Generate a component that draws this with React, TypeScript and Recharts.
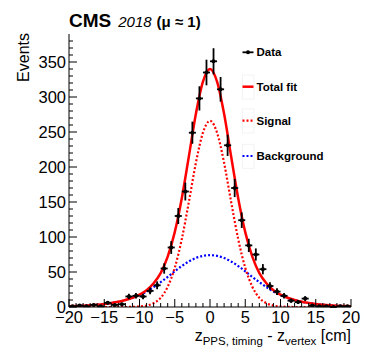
import React from 'react';
import { ComposedChart, Line, Scatter, ErrorBar, XAxis, YAxis } from 'recharts';

// measured events per 1 cm bin
const binCenters = [
  -19.5, -18.5, -17.5, -16.5, -15.5, -14.5, -13.5, -12.5, -11.5, -10.5,
  -9.5, -8.5, -7.5, -6.5, -5.5, -4.5, -3.5, -2.5, -1.5, -0.5,
  0.5, 1.5, 2.5, 3.5, 4.5, 5.5, 6.5, 7.5, 8.5, 9.5,
  10.5, 11.5, 12.5, 13.5, 14.5, 15.5, 16.5, 17.5, 18.5, 19.5,
];
const counts = [
  1, 2, 1, 3, 1, 6, 3, 4, 15, 16,
  15, 23, 31, 55, 85, 130, 165, 249, 298, 335,
  351, 311, 231, 170, 124, 88, 75, 54, 30, 22,
  16, 9, 7, 12, 2, 1, 1, 0, 1, 1,
];
const countErrors = [
  1, 1.4, 1, 1.7, 1, 2.4, 1.7, 2, 3.9, 4,
  3.9, 4.8, 5.6, 7.4, 9.2, 11.4, 12.8, 15.8, 17.3, 18.3,
  18.7, 17.6, 15.2, 13, 11.1, 9.4, 8.7, 7.3, 5.5, 4.7,
  4, 3, 2.6, 3.5, 1.4, 1, 1, 0, 1, 1,
];

// fit curves read at every cm
const fitX = [
  -20, -19, -18, -17, -16, -15, -14, -13, -12, -11, -10, -9, -8, -7, -6, -5, -4, -3, -2, -1,
  0, 1, 2, 3, 4, 5, 6, 7, 8, 9, 10, 11, 12, 13, 14, 15, 16, 17, 18, 19, 20,
];
const totalFit = [
  1.0, 1.3, 1.8, 2.4, 3.2, 4.3, 5.7, 7.5, 10, 13.2, 17.7, 24, 34, 48.5, 72, 107, 155.5, 215, 276, 322,
  340, 322, 276, 215, 155.5, 107, 72, 48.5, 34, 24, 17.7, 13.2, 10, 7.5, 5.7, 4.3, 3.2, 2.4, 1.8, 1.3, 1.0,
];
const signalFit = [
  0, 0, 0, 0, 0, 0, 0, 0, 0, 0.2, 0.7, 2, 5.5, 13, 29, 56, 97, 150, 206, 249,
  266, 249, 206, 150, 97, 56, 29, 13, 5.5, 2, 0.7, 0.2, 0, 0, 0, 0, 0, 0, 0, 0, 0,
];
const backgroundFit = [
  1.0, 1.3, 1.8, 2.4, 3.2, 4.3, 5.7, 7.5, 10, 13, 17, 22, 28.5, 35.5, 43, 51, 58.5, 65, 70, 73,
  74, 73, 70, 65, 58.5, 51, 43, 35.5, 28.5, 22, 17, 13, 10, 7.5, 5.7, 4.3, 3.2, 2.4, 1.8, 1.3, 1.0,
];

const xTicks = fitX; // minor every 1 cm, labels every 5
const yTicks = [
  0, 10, 20, 30, 40, 50, 60, 70, 80, 90, 100, 110, 120, 130, 140, 150, 160, 170, 180, 190,
  200, 210, 220, 230, 240, 250, 260, 270, 280, 290, 300, 310, 320, 330, 340, 350, 360, 370, 380,
];

const font = '"Liberation Sans", Arial, Helvetica, sans-serif';

const fitData = fitX.map((x, i) => ({
  x,
  total: totalFit[i],
  signal: signalFit[i],
  bkg: backgroundFit[i],
}));
const points = binCenters.map((x, i) => ({ x, y: counts[i], ex: 0.5, ey: countErrors[i] }));

const fmt = (v: number) => (v < 0 ? '\u2212' + Math.abs(v) : String(v));

const BottomTick = (p: any) => {
  const v = p.payload.value;
  const major = v % 5 === 0;
  return (
    <g>
      <line x1={p.x} x2={p.x} y1={p.y} y2={p.y - (major ? 8 : 4)} stroke="#000" />
      {major && (
        <text x={p.x} y={p.y + 16} textAnchor="middle" fontSize={16.5} fontFamily={font} fill="#000">
          {fmt(v)}
        </text>
      )}
    </g>
  );
};

const TopTick = (p: any) => {
  const major = p.payload.value % 5 === 0;
  return <line x1={p.x} x2={p.x} y1={p.y} y2={p.y + (major ? 8 : 4)} stroke="#000" />;
};

const LeftTick = (p: any) => {
  const v = p.payload.value;
  const major = v % 50 === 0;
  return (
    <g>
      <line x1={p.x} x2={p.x + (major ? 8 : 4)} y1={p.y} y2={p.y} stroke="#000" />
      {major && (
        <text x={p.x - 3} y={p.y + 5.5} textAnchor="end" fontSize={16.5} fontFamily={font} fill="#000">
          {v}
        </text>
      )}
    </g>
  );
};

const RightTick = (p: any) => {
  const major = p.payload.value % 50 === 0;
  return <line x1={p.x} x2={p.x - (major ? 8 : 4)} y1={p.y} y2={p.y} stroke="#000" />;
};

const Dot = (p: any) => <circle cx={p.cx} cy={p.cy} r={2} fill="#000" />;

const Overlay = () => (
  <svg width={382} height={349} style={{ position: 'absolute', left: 0, top: 0, pointerEvents: 'none' }} fontFamily={font}>
    <text x={69} y={27} fill="#000">
      <tspan fontWeight="bold" fontSize={19}>CMS</tspan>
      <tspan fontStyle="italic" fontSize={15} dx={7}>2018</tspan>
      <tspan fontWeight="bold" fontSize={15} dx={5}>(μ ≈ 1)</tspan>
    </text>
    <text transform="rotate(-90)" x={-33} y={28.5} textAnchor="end" fontSize={16} fill="#000">Events</text>
    <text x={351} y={340.5} textAnchor="end" fontSize={16} fill="#000">
      z<tspan fontSize={11.5} dy={4}>PPS, timing</tspan>
      <tspan dy={-4}> - z</tspan>
      <tspan fontSize={11.5} dy={4}>vertex</tspan>
      <tspan dy={-4}> [cm]</tspan>
    </text>

    {/* legend */}
    <line x1={242.5} x2={253.5} y1={52.3} y2={52.3} stroke="#000" strokeWidth={1.8} />
    <circle cx={248} cy={52.3} r={2} fill="#000" />
    <text x={256.5} y={56.3} fontSize={11.5} fontWeight="bold" fill="#000">Data</text>

    <rect x={242.5} y={75} width={11.5} height={24} fill="none" stroke="#f3f3f3" />
    <line x1={242.5} x2={253.5} y1={86.7} y2={86.7} stroke="#ff0000" strokeWidth={2.5} />
    <text x={256.5} y={90.7} fontSize={11.5} fontWeight="bold" fill="#000">Total fit</text>

    <rect x={242.5} y={109} width={11.5} height={24} fill="none" stroke="#f3f3f3" />
    <line x1={242.5} x2={253.5} y1={120.7} y2={120.7} stroke="#ff0000" strokeWidth={2.2} strokeDasharray="2 2" />
    <text x={256.5} y={124.7} fontSize={11.5} fontWeight="bold" fill="#000">Signal</text>

    <rect x={242.5} y={144.3} width={11.5} height={24} fill="none" stroke="#f3f3f3" />
    <line x1={242.5} x2={253.5} y1={156} y2={156} stroke="#0000ff" strokeWidth={2.2} strokeDasharray="2 2" />
    <text x={256.5} y={160} fontSize={11.5} fontWeight="bold" fill="#000">Background</text>
  </svg>
);

export default function App() {
  return (
    <div style={{ position: 'absolute', left: 0, top: 0, width: 382, height: 349, background: '#fff' }}>
      <ComposedChart width={382} height={349} margin={{ top: 34, right: 31, bottom: 0, left: 0 }}>
        <XAxis
          xAxisId="b"
          dataKey="x"
          type="number"
          domain={[-20, 20]}
          ticks={xTicks}
          interval={0}
          height={42}
          tickSize={0}
          tickMargin={0}
          tickLine={false}
          axisLine={{ stroke: '#000' }}
          tick={BottomTick}
          allowDataOverflow
        />
        <XAxis
          xAxisId="t"
          orientation="top"
          dataKey="x"
          type="number"
          domain={[-20, 20]}
          ticks={xTicks}
          interval={0}
          height={0}
          tickSize={0}
          tickMargin={0}
          tickLine={false}
          axisLine={{ stroke: '#000' }}
          tick={TopTick}
          allowDataOverflow
        />
        <YAxis
          yAxisId="l"
          type="number"
          domain={[0, 390]}
          ticks={yTicks}
          interval={0}
          width={69}
          tickSize={0}
          tickMargin={0}
          tickLine={false}
          axisLine={{ stroke: '#000' }}
          tick={LeftTick}
          allowDataOverflow
        />
        <YAxis
          yAxisId="r"
          orientation="right"
          type="number"
          domain={[0, 390]}
          ticks={yTicks}
          interval={0}
          width={0}
          tickSize={0}
          tickMargin={0}
          tickLine={false}
          axisLine={{ stroke: '#000' }}
          tick={RightTick}
          allowDataOverflow
        />
        <Line
          xAxisId="b"
          yAxisId="l"
          data={fitData}
          dataKey="bkg"
          type="monotone"
          stroke="#0000ff"
          strokeWidth={2.2}
          strokeDasharray="2 2"
          dot={false}
          isAnimationActive={false}
        />
        <Line
          xAxisId="b"
          yAxisId="l"
          data={fitData}
          dataKey="signal"
          type="monotone"
          stroke="#ff0000"
          strokeWidth={2.2}
          strokeDasharray="2 2"
          dot={false}
          isAnimationActive={false}
        />
        <Line
          xAxisId="b"
          yAxisId="l"
          data={fitData}
          dataKey="total"
          type="monotone"
          stroke="#ff0000"
          strokeWidth={2.5}
          dot={false}
          isAnimationActive={false}
        />
        <Scatter
          xAxisId="b"
          yAxisId="l"
          data={points}
          dataKey="y"
          fill="#000"
          shape={Dot}
          isAnimationActive={false}
        >
          <ErrorBar dataKey="ey" direction="y" width={0} stroke="#000" strokeWidth={1.8} />
          <ErrorBar dataKey="ex" direction="x" width={0} stroke="#000" strokeWidth={1.8} />
        </Scatter>
      </ComposedChart>
      <Overlay />
    </div>
  );
}
